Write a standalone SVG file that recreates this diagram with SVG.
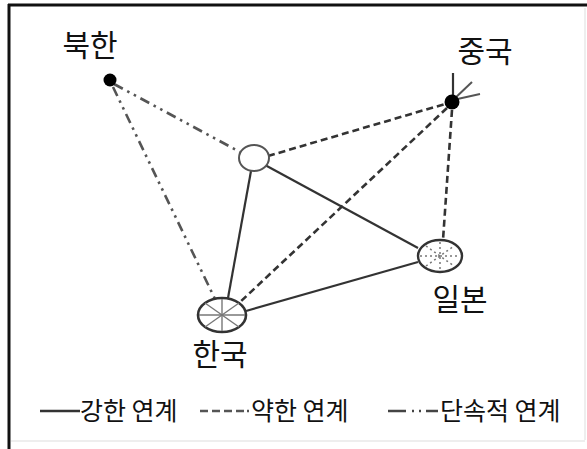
<svg xmlns="http://www.w3.org/2000/svg" width="587" height="449" viewBox="0 0 587 449">
<style>
.lbl{font-family:"Noto Sans CJK KR","Liberation Sans",sans-serif;font-size:30px;fill:#111}
.leg{font-family:"Noto Sans CJK KR","Liberation Sans",sans-serif;font-size:25px;fill:#111}
.strong{stroke:#333;stroke-width:2.2;fill:none}
.weak{stroke:#333;stroke-width:2.6;fill:none;stroke-dasharray:7 4}
.inter{stroke:#555;stroke-width:2.6;fill:none;stroke-dasharray:10 5 2.5 5 2.5 5}
</style>
<rect width="587" height="449" fill="#fff"/>
<g id="frame">
<line x1="9" y1="4" x2="9" y2="449" stroke="#111" stroke-width="3"/>
<line x1="8" y1="5" x2="587" y2="5" stroke="#111" stroke-width="3"/>
<line x1="585" y1="8" x2="585" y2="440" stroke="#ddd" stroke-width="1"/>
<line x1="11" y1="441" x2="585" y2="441" stroke="#ddd" stroke-width="1"/>
</g>
<g id="connectors">
<line class="inter" x1="114" y1="84" x2="240" y2="152"/>
<line class="inter" x1="113" y1="87" x2="215" y2="299"/>
<line class="weak" x1="268" y1="156" x2="445" y2="104"/>
<line class="weak" x1="447" y1="108" x2="238" y2="304"/>
<line class="weak" x1="452" y1="110" x2="443" y2="240"/>
<line class="strong" x1="251" y1="171" x2="228" y2="298"/>
<line class="strong" x1="265" y1="165" x2="418" y2="248"/>
<line class="strong" x1="246" y1="311" x2="418" y2="262"/>
</g>
<g id="north-korea">
<circle cx="110" cy="80" r="6.5" fill="#000"/>
<text class="lbl" x="90" y="56" text-anchor="middle">북한</text>
</g>
<g id="center">
<ellipse cx="254" cy="158" rx="15" ry="13" fill="#fff" stroke="#555" stroke-width="2"/>
</g>
<g id="china">
<line x1="453" y1="73" x2="453" y2="101" stroke="#333" stroke-width="2.2"/>
<line x1="453" y1="100" x2="472" y2="82" stroke="#555" stroke-width="2"/>
<line x1="453" y1="100" x2="480" y2="94" stroke="#555" stroke-width="2"/>
<circle cx="452" cy="102" r="7.5" fill="#000"/>
<text class="lbl" x="485" y="62" text-anchor="middle">중국</text>
</g>
<g id="japan">
<ellipse cx="440" cy="256" rx="22" ry="16" fill="#fff" stroke="#333" stroke-width="2.4"/>
<g stroke="#777" stroke-width="1.5" stroke-dasharray="2 3">
<line x1="420" y1="256" x2="460" y2="256"/>
<line x1="440" y1="242" x2="440" y2="270"/>
<line x1="426" y1="246" x2="454" y2="266"/>
<line x1="426" y1="266" x2="454" y2="246"/>
</g>
<text class="lbl" x="460" y="310" text-anchor="middle">일본</text>
</g>
<g id="korea">
<ellipse cx="222" cy="315" rx="24" ry="17" fill="#fff" stroke="#333" stroke-width="2.6"/>
<g stroke="#777" stroke-width="1.4">
<line x1="199" y1="315" x2="245" y2="315"/>
<line x1="222" y1="299" x2="222" y2="331"/>
<line x1="205" y1="303" x2="239" y2="327"/>
<line x1="205" y1="327" x2="239" y2="303"/>
</g>
<text class="lbl" x="220" y="365" text-anchor="middle">한국</text>
</g>
<g id="legend">
<line x1="40" y1="411" x2="80" y2="411" stroke="#333" stroke-width="2.5"/>
<text class="leg" x="80" y="420">강한 연계</text>
<path d="M200 411h8M212 411h8M224 411h8M236 411h8M247 411h2" stroke="#555" stroke-width="2.5"/>
<text class="leg" x="251" y="420">약한 연계</text>
<path d="M388 411h18M412 411h2M419 411h2M426 411h12" stroke="#444" stroke-width="2.5"/>
<text class="leg" x="440" y="420">단속적 연계</text>
</g>
</svg>
